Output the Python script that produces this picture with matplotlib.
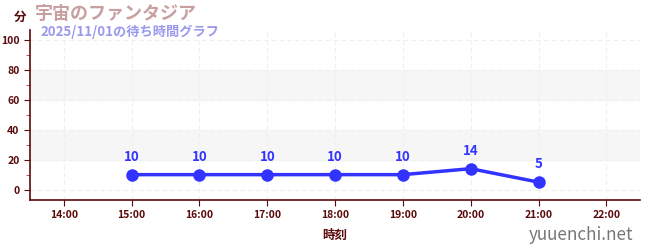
import matplotlib.pyplot as plt
import numpy as np

plt.rcParams['font.family'] = ['Noto Sans CJK JP', 'DejaVu Sans']

# data
hours = [15, 16, 17, 18, 19, 20, 21]
waits = [10, 10, 10, 10, 10, 14, 5]
xtick_hours = [14, 15, 16, 17, 18, 19, 20, 21, 22]
xtick_labels = [f"{h}:00" for h in xtick_hours]
yticks = [0, 20, 40, 60, 80, 100]
bands = [(20, 40), (60, 80)]

axis_col = "#5a0a0a"
line_col = "#3333ff"

fig = plt.figure(figsize=(6.5, 2.5), dpi=100)
ax = fig.add_axes([0.046, 0.2, 0.939, 0.68])

for lo, hi in bands:
    ax.axhspan(lo, hi, color="#f6f6f6", zorder=0)

ax.plot(hours, waits, color=line_col, lw=2.5, marker="o", ms=8, zorder=3)
for x, y in zip(hours, waits):
    ax.annotate(str(y), (x, y), xytext=(0, 8), textcoords="offset points",
                ha="center", va="bottom", color=line_col, fontsize=9.5,
                fontweight="bold")

ax.set_xlim(13.5, 22.5)
ax.set_ylim(-7, 107)
ax.set_xticks(xtick_hours)
ax.set_xticklabels(xtick_labels)
ax.set_yticks(yticks)
ax.set_yticks(np.arange(10, 101, 20), minor=True)
ax.grid(True, color="#efefef", ls=(0, (4, 3)), lw=0.8)
ax.set_axisbelow(True)

for s in ["top", "right"]:
    ax.spines[s].set_visible(False)
for s in ["left", "bottom"]:
    ax.spines[s].set_color(axis_col)
    ax.spines[s].set_linewidth(1.2)

ax.tick_params(axis="both", colors=axis_col, labelsize=7.5, length=4)
ax.tick_params(axis="y", which="minor", colors="#dd2222", length=3)
for lab in ax.get_xticklabels() + ax.get_yticklabels():
    lab.set_fontweight("bold")

ax.set_xlabel("時刻", color=axis_col, fontsize=9, fontweight="bold", labelpad=6)

fig.text(0.031, 0.932, "分", color=axis_col, fontsize=9, fontweight="bold",
         ha="center", va="center")
fig.text(0.054, 0.948, "宇宙のファンタジア", color="#c9a0a0", fontsize=13,
         fontweight="bold", ha="left", va="center")
fig.text(0.062, 0.872, "2025/11/01の待ち時間グラフ", color="#9999ee", fontsize=9.5,
         fontweight="bold", ha="left", va="center")
fig.text(0.975, 0.06, "yuuenchi.net", color="#777777", fontsize=12.3,
         ha="right", va="center")

fig.savefig("out.png", dpi=100)
